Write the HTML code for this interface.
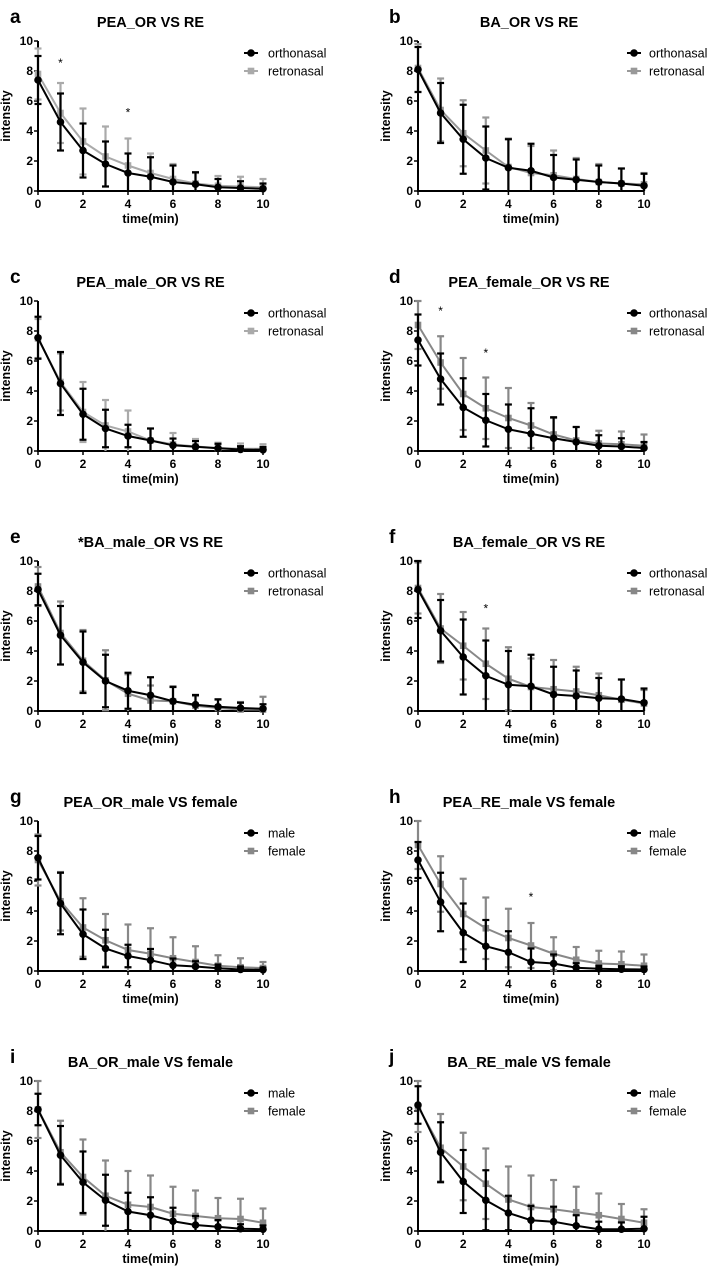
<!DOCTYPE html>
<html><head><meta charset="utf-8"><style>
html,body{margin:0;padding:0;background:#fff;}
svg{display:block;font-family:"Liberation Sans",Arial,sans-serif;}
</style></head><body>
<svg id="fig" width="707" height="1270" viewBox="0 0 707 1270" xmlns="http://www.w3.org/2000/svg"></svg>
<script>
const xTicks=[0,2,4,6,8,10];
const yTicks=[0,2,4,6,8,10];
const times=[0,1,2,3,4,5,6,7,8,9,10];
const letters=["a","b","c","d","e","f","g","h","i","j"];
const titles=["PEA_OR VS RE","BA_OR VS RE","PEA_male_OR VS RE","PEA_female_OR VS RE","*BA_male_OR VS RE","BA_female_OR VS RE","PEA_OR_male VS female","PEA_RE_male VS female","BA_OR_male VS female","BA_RE_male VS female"];
const legendA=["orthonasal","orthonasal","orthonasal","orthonasal","orthonasal","orthonasal","male","male","male","male"];
const legendB=["retronasal","retronasal","retronasal","retronasal","retronasal","retronasal","female","female","female","female"];
const meanA=[
[7.4,4.6,2.7,1.8,1.2,0.95,0.6,0.45,0.25,0.2,0.15],
[8.1,5.2,3.45,2.2,1.55,1.35,0.9,0.75,0.6,0.5,0.35],
[7.55,4.5,2.45,1.5,1.0,0.7,0.38,0.28,0.18,0.1,0.08],
[7.4,4.8,2.9,2.05,1.45,1.15,0.85,0.6,0.35,0.3,0.2],
[8.1,5.05,3.25,2.0,1.35,1.05,0.65,0.42,0.28,0.2,0.15],
[8.1,5.35,3.6,2.35,1.75,1.65,1.1,1.0,0.85,0.8,0.55],
[7.55,4.5,2.45,1.5,1.0,0.72,0.38,0.3,0.18,0.1,0.08],
[7.4,4.6,2.55,1.65,1.25,0.6,0.5,0.22,0.15,0.12,0.1],
[8.1,5.05,3.25,2.05,1.3,1.05,0.65,0.4,0.28,0.15,0.12],
[8.4,5.25,3.3,2.05,1.2,0.72,0.62,0.35,0.12,0.12,0.15]];
const sdA=[
[1.6,1.9,1.8,1.5,1.3,1.3,1.1,0.8,0.55,0.45,0.35],
[1.5,2.0,2.3,2.1,1.9,1.8,1.5,1.35,1.1,1.0,0.8],
[1.4,2.1,1.7,1.25,0.75,0.8,0.45,0.38,0.3,0.22,0.18],
[1.7,1.7,1.95,1.75,1.65,1.7,1.4,1.0,0.7,0.55,0.4],
[1.05,1.95,2.05,1.75,1.2,1.2,0.95,0.65,0.5,0.35,0.3],
[1.9,2.05,2.5,2.35,2.25,2.1,1.85,1.7,1.35,1.3,0.95],
[1.45,2.05,1.65,1.25,0.75,0.75,0.45,0.35,0.25,0.2,0.15],
[1.2,1.95,1.95,1.75,1.4,0.9,0.6,0.3,0.2,0.2,0.2],
[1.05,1.95,2.05,1.7,1.25,1.2,0.9,0.6,0.45,0.3,0.25],
[1.25,2.0,2.1,2.0,1.15,0.95,1.0,0.7,0.5,0.45,0.8]];
const meanB=[
[7.8,5.2,3.3,2.3,1.7,1.2,0.8,0.5,0.35,0.3,0.25],
[8.2,5.4,3.85,2.7,1.6,1.2,1.05,0.8,0.6,0.5,0.45],
[7.5,4.6,2.6,1.7,1.3,0.7,0.45,0.3,0.2,0.15,0.15],
[8.4,5.9,3.8,2.85,2.2,1.7,1.1,0.7,0.5,0.45,0.35],
[8.3,5.2,3.35,2.05,1.15,0.7,0.65,0.35,0.2,0.1,0.1],
[8.2,5.5,4.35,3.15,2.15,1.6,1.45,1.3,1.05,0.75,0.5],
[7.4,4.65,2.9,2.05,1.4,1.15,0.85,0.6,0.35,0.25,0.2],
[8.4,5.8,3.8,2.85,2.2,1.7,1.15,0.75,0.5,0.45,0.35],
[8.1,5.25,3.6,2.35,1.75,1.6,1.15,1.0,0.85,0.8,0.55],
[8.3,5.55,4.3,3.15,2.1,1.6,1.45,1.25,1.05,0.8,0.55]];
const sdB=[
[1.7,2.0,2.2,2.0,1.8,1.3,1.0,0.7,0.65,0.65,0.55],
[1.6,2.1,2.2,2.2,1.9,1.8,1.65,1.4,1.2,1.0,0.75],
[1.3,1.9,2.0,1.7,1.4,0.8,0.75,0.5,0.35,0.35,0.3],
[1.6,1.75,2.4,2.05,2.0,1.5,1.1,0.9,0.85,0.85,0.75],
[1.3,2.1,2.05,2.0,1.3,1.0,1.0,0.65,0.55,0.5,0.85],
[1.7,2.3,2.25,2.35,2.1,1.9,1.95,1.65,1.45,1.35,0.9],
[1.7,1.95,1.95,1.75,1.7,1.7,1.4,1.05,0.7,0.6,0.4],
[1.6,1.85,2.35,2.05,1.95,1.5,1.1,0.85,0.85,0.85,0.75],
[1.9,2.1,2.5,2.35,2.25,2.1,1.8,1.7,1.35,1.35,0.95],
[1.7,2.25,2.25,2.35,2.2,2.1,1.95,1.7,1.45,1.0,0.9]];
const starX=[[1,4],[],[],[1,3],[],[3],[],[5],[],[]];
const starY=[[8.6,5.3],[],[],[9.4,6.6],[],[6.9],[],[5.0],[],[]];
const grayColors=["#aaaaaa","#999999","#aaaaaa","#888888","#888888","#888888","#888888","#888888","#888888","#888888"];

const NS="http://www.w3.org/2000/svg";
const svg=document.getElementById('fig');
function mk(tag,attrs,parent,text){const e=document.createElementNS(NS,tag);for(const k in attrs)e.setAttribute(k,attrs[k]);if(text!==undefined)e.textContent=text;parent.appendChild(e);return e;}

for(let p=0;p<10;p++){
  const col=p%2,row=Math.floor(p/2);
  const x0=col?418:38, W=col?226:225, y0=191+260*row, H=150;
  const sx=v=>x0+v/10*W, sy=v=>y0-v/10*H;
  const g=mk('g',{},svg);
  
  
  const lt=mk('text',{x:col?389:10,y:y0-168,'font-size':19,'font-weight':'bold'},g,letters[p]);
  
  
  const tt=mk('text',{x:x0+W/2+(col?-2:0),y:y0-164,'font-size':14.5,'font-weight':'bold','text-anchor':'middle'},g,titles[p]);
  
  
  const ax=mk('path',{d:`M${x0} ${y0-H}V${y0}H${x0+W}`,stroke:'#000','stroke-width':2,fill:'none'},g);
  
  
  yTicks.forEach(v=>{
    mk('line',{x1:x0-4,x2:x0,y1:sy(v),y2:sy(v),stroke:'#000','stroke-width':1.5},g);
    const t=mk('text',{x:x0-5,y:sy(v)+4,'font-size':12,'font-weight':'bold','text-anchor':'end'},g,String(v));
    
    
  });
  xTicks.forEach(v=>{
    mk('line',{x1:sx(v),x2:sx(v),y1:y0,y2:y0+4,stroke:'#000','stroke-width':1.5},g);
    const t=mk('text',{x:sx(v),y:y0+17,'font-size':12,'font-weight':'bold','text-anchor':'middle'},g,String(v));
    
    
  });
  const xt=mk('text',{x:x0+W/2,y:y0+32,'font-size':12.5,'font-weight':'bold','text-anchor':'middle'},g,'time(min)');
  
  
  const yx=x0-28, yy=y0-H/2;
  const yt=mk('text',{x:yx,y:yy,'font-size':12.5,'font-weight':'bold','text-anchor':'middle',transform:`rotate(-90 ${yx} ${yy})`},g,'intensity');
  
  
  const series=[[meanB[p],sdB[p],grayColors[p],'sq'],[meanA[p],sdA[p],'#000','ci']];
  series.forEach(([m,s,c,shape],si)=>{
    const sg=mk('g',{},g);
    
    
    times.forEach((t,i)=>{
      const lo=Math.max(0,m[i]-s[i]),hi=m[i]+s[i];
      mk('line',{x1:sx(t),x2:sx(t),y1:sy(lo),y2:sy(hi),stroke:c,'stroke-width':2.2},sg);
      mk('line',{x1:sx(t)-3.5,x2:sx(t)+3.5,y1:sy(hi),y2:sy(hi),stroke:c,'stroke-width':2.2},sg);
      if(m[i]-s[i]>0) mk('line',{x1:sx(t)-3.5,x2:sx(t)+3.5,y1:sy(lo),y2:sy(lo),stroke:c,'stroke-width':2.2},sg);
    });
    mk('polyline',{points:times.map((t,i)=>sx(t)+','+sy(m[i])).join(' '),fill:'none',stroke:c,'stroke-width':2},sg);
    times.forEach((t,i)=>{
      if(shape==='ci') mk('circle',{cx:sx(t),cy:sy(m[i]),r:3.8,fill:c},sg);
      else mk('rect',{x:sx(t)-3.3,y:sy(m[i])-3.3,width:6.6,height:6.6,fill:c},sg);
    });
  });
  starX[p].forEach((sv,k)=>{
    const st=mk('text',{x:sx(sv),y:sy(starY[p][k])+5,'font-size':12,'text-anchor':'middle'},g,'*');
    
    
  });
  const lx=col?627:244, tx=col?649:268, ly=y0-H+12;
  const lg=mk('g',{},g);
  
  
  mk('line',{x1:lx,x2:lx+14,y1:ly,y2:ly,stroke:'#000','stroke-width':2},lg);
  mk('circle',{cx:lx+7,cy:ly,r:3.8,fill:'#000'},lg);
  mk('text',{x:tx,y:ly+4.5,'font-size':12.5},lg,legendA[p]);
  mk('line',{x1:lx,x2:lx+14,y1:ly+18,y2:ly+18,stroke:grayColors[p],'stroke-width':2},lg);
  mk('rect',{x:lx+3.7,y:ly+14.7,width:6.6,height:6.6,fill:grayColors[p]},lg);
  mk('text',{x:tx,y:ly+22.5,'font-size':12.5},lg,legendB[p]);
}
</script>
</body></html>
